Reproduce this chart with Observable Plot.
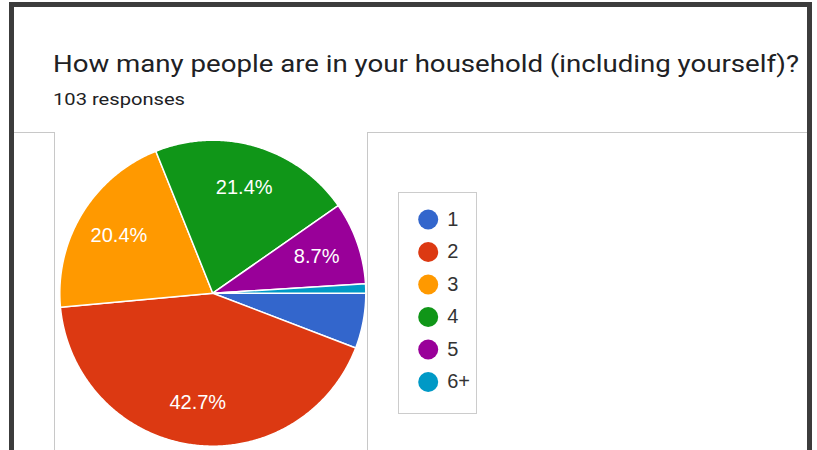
<!DOCTYPE html>
<html>
<head>
<meta charset="utf-8">
<script src="https://cdn.jsdelivr.net/npm/d3@7"></script>
<script src="https://cdn.jsdelivr.net/npm/@observablehq/plot@0.6"></script>
<style>
  html, body { margin: 0; padding: 0; background: #fff; width: 817px; height: 450px; overflow: hidden; }
  #page { position: relative; width: 817px; height: 450px; }
  .frame { position: absolute; left: 9px; top: 2px; width: 803px; height: 480px; box-sizing: border-box;
           border: 5px solid #3c3c3c; border-bottom: none; }
  .hl { position: absolute; height: 0; border-top: 1px solid #c8c8c8; }
  .vl { position: absolute; width: 0; border-left: 1px solid #c8c8c8; }
  #title { position: absolute; left: 53px; top: 52px; font-family: Roboto, sans-serif; font-size: 24px;
           line-height: 24px; color: #202124; white-space: nowrap; transform-origin: 0 0; }
  #subtitle { position: absolute; left: 53px; top: 91.4px; font-family: Roboto, sans-serif; font-size: 17px;
              line-height: 17px; color: #202124; white-space: nowrap; transform-origin: 0 0; }
  #legendbox { position: absolute; left: 398px; top: 192px; width: 79px; height: 222px; box-sizing: border-box;
               border: 1px solid #cccccc; }
  #chart { position: absolute; left: 0; top: 0; }
</style>
</head>
<body>
<div id="page">
  <div class="frame"></div>
  <div class="hl" style="left:14px; top:132px; width:41px;"></div>
  <div class="hl" style="left:367px; top:132px; width:440px;"></div>
  <div class="vl" style="left:54px; top:132px; height:330px;"></div>
  <div class="vl" style="left:367px; top:132px; height:330px;"></div>
  <div id="title">How many people are in your household (including yourself)?</div>
  <div id="subtitle">103 responses</div>
  <div id="legendbox"></div>
  <div id="chart"></div>
</div>
<script>
// ---- data ----
const categories = ["1", "2", "3", "4", "5", "6+"];
const counts = [6, 44, 21, 22, 9, 1];
const colors = ["#3366cc", "#dc3912", "#ff9900", "#109618", "#990099", "#0099c6"];

// stretch the heading texts horizontally to the reference widths
function fitWidth(id, target) {
  const el = document.getElementById(id);
  const w = el.getBoundingClientRect().width;
  el.style.transform = "scaleX(" + (target / w) + ")";
}
fitWidth("title", 746);
fitWidth("subtitle", 132);

// ---- layout ----
const cx = 212.3, cy = 292.7, R = 153, labelR = 110;
const startDeg = 90; // clockwise from 12 o'clock
const total = d3.sum(counts);

const slices = [];
const pts = [];
let acc = startDeg;
categories.forEach((cat, i) => {
  const span = counts[i] / total * 360;
  const a0 = acc, a1 = acc + span;
  acc = a1;
  const toXY = (deg, r) => {
    const t = deg * Math.PI / 180;
    return [cx + r * Math.sin(t), cy - r * Math.cos(t)];
  };
  const n = Math.max(2, Math.ceil(span / 0.5));
  pts.push({cat, x: cx, y: cy});
  for (let k = 0; k <= n; k++) {
    const [x, y] = toXY(a0 + (a1 - a0) * k / n, R);
    pts.push({cat, x, y});
  }
  pts.push({cat, x: cx, y: cy});
  const pct = counts[i] / total * 100;
  const [lx, ly] = toXY((a0 + a1) / 2, labelR);
  slices.push({cat, pct, label: pct.toFixed(1) + "%", lx, ly});
});

const legend = categories.map((cat, i) => ({cat, x: 427.7, y: 219 + i * 32.5}));
const colorScale = {domain: categories, range: colors};

const chart = Plot.plot({
  width: 817,
  height: 450,
  margin: 0,
  style: {background: "transparent", overflow: "visible"},
  x: {type: "identity", axis: null},
  y: {type: "identity", axis: null},
  color: colorScale,
  marks: [
    Plot.line(pts, {x: "x", y: "y", z: "cat", fill: "cat", stroke: "#ffffff", strokeWidth: 1.5,
                    strokeLinejoin: "round", curve: "linear-closed"}),
    Plot.text(slices.filter(d => d.pct >= 7), {x: "lx", y: "ly", text: "label", fill: "#ffffff",
                    fontSize: 20, fontFamily: "Liberation Sans, Arial, sans-serif", textAnchor: "middle",
                    lineAnchor: "middle"}),
    Plot.dot(legend, {x: "x", y: "y", r: 10, fill: "cat", stroke: null}),
    Plot.text(legend, {x: d => d.x + 19, y: "y", text: "cat", fill: "#333333", fontSize: 20,
                    fontFamily: "Liberation Sans, Arial, sans-serif", textAnchor: "start", lineAnchor: "middle"})
  ]
});
document.getElementById("chart").appendChild(chart);
</script>
</body>
</html>
